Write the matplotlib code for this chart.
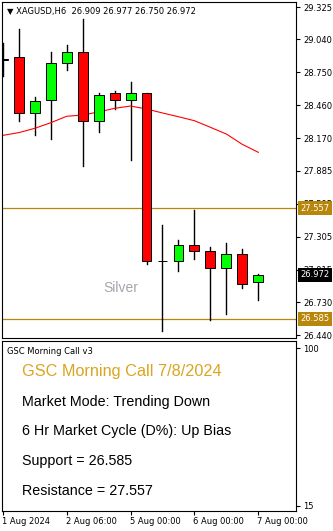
import matplotlib
matplotlib.use("Agg")
import matplotlib.pyplot as plt
import matplotlib.transforms as mtransforms
from matplotlib.patches import Rectangle

# XAGUSD H6 candles
opens = [28.862, 28.882, 28.390, 28.507, 28.833, 28.926, 28.320, 28.566, 28.507,
         28.566, 27.091, 27.088, 27.229, 27.176, 27.032, 27.153, 26.909]
highs = [29.008, 29.132, 28.533, 28.929, 28.991, 29.217, 28.566, 28.586, 28.665,
         28.566, 27.408, 27.276, 27.540, 27.212, 27.249, 27.197, 26.977]
lows = [28.718, 28.325, 28.202, 28.161, 28.774, 27.924, 28.228, 28.428, 27.979,
        27.067, 26.478, 27.006, 27.109, 26.572, 26.625, 26.856, 26.750]
closes = [28.870, 28.390, 28.498, 28.830, 28.926, 28.320, 28.548, 28.507, 28.566,
          27.088, 27.090, 27.229, 27.176, 27.032, 27.153, 26.891, 26.972]
ma = [28.196, 28.220, 28.258, 28.307, 28.364, 28.375, 28.402, 28.434, 28.454,
      28.428, 28.393, 28.360, 28.325, 28.267, 28.208, 28.117, 28.047]

price_ticks = [29.325, 29.040, 28.750, 28.460, 28.170, 27.885, 27.595, 27.305,
               27.015, 26.730, 26.440]
support = 26.585
resistance = 27.557
last_price = 26.972

date_pos = [0, 4, 8, 12, 16]
date_labels = ["1 Aug 2024", "2 Aug 06:00", "5 Aug 00:00", "6 Aug 00:00", "7 Aug 00:00"]

panel_lines = ["Market Mode: Trending Down", "6 Hr Market Cycle (D%): Up Bias",
               "Support = 26.585", "Resistance = 27.557"]

GOLD = "#B8860B"
small = 6

fig = plt.figure(figsize=(3.33, 5.31), dpi=100)
ax = fig.add_axes([2 / 333, 1 - 338 / 531, 294 / 333, 336 / 531])
ax2 = fig.add_axes([2 / 333, 1 - 511 / 531, 294 / 333, 170 / 531])

# candles
w = 0.62
for i in range(len(opens)):
    o, h, l, c = opens[i], highs[i], lows[i], closes[i]
    ax.plot([i, i], [l, h], color="black", lw=1.0, zorder=2)
    col = "#00FF00" if c >= o else "#FF0000"
    lo = min(o, c)
    hgt = max(abs(c - o), 0.004)
    ax.add_patch(Rectangle((i - w / 2, lo), w, hgt, facecolor=col,
                           edgecolor="black", lw=0.7, zorder=3))

ax.plot(range(len(ma)), ma, color="#FF0000", lw=0.8, zorder=2)
ax.axhline(resistance, color=GOLD, lw=0.9, zorder=1)
ax.axhline(support, color=GOLD, lw=0.9, zorder=1)

ax.set_xlim(-0.05, 18.36)
ax.set_ylim(26.414, 29.369)
ax.set_xticks([])
ax.yaxis.tick_right()
ax.set_yticks(price_ticks)
ax.set_yticklabels([f"{t:.3f}" for t in price_ticks])
ax.tick_params(axis="y", labelsize=small, length=3, pad=2, width=0.8)
for s in ax.spines.values():
    s.set_linewidth(0.8)

# price tags on the right scale (they sit over the neighbouring tick labels, as in MT4)
trans = mtransforms.blended_transform_factory(ax.transAxes, ax.transData)
for val, bg in [(resistance, GOLD), (support, GOLD), (last_price, "black")]:
    ax.annotate(f"{val:.3f}", xy=(1, val), xycoords=trans, xytext=(3, 0),
                textcoords="offset points", ha="left", va="center",
                fontsize=small, color="white", zorder=10, annotation_clip=False,
                bbox=dict(boxstyle="square,pad=0.3", fc=bg, ec="none"))

ax.text(0.018, 0.985, "\u25bc XAGUSD,H6  26.909 26.977 26.750 26.972",
        transform=ax.transAxes, ha="left", va="top", fontsize=small)
ax.text(7.4, 26.85, "Silver", ha="center", va="center", fontsize=10,
        color="#a3a6ae", family="Liberation Sans")

# indicator panel
ax2.set_xlim(-0.05, 18.36)
ax2.set_ylim(12.3, 103.8)
ax2.yaxis.tick_right()
ax2.set_yticks([100, 15])
ax2.tick_params(axis="y", labelsize=small, length=3, pad=2, width=0.8)
ax2.set_xticks(date_pos)
ax2.set_xticklabels(date_labels, ha="left")
ax2.tick_params(axis="x", labelsize=small, length=3, pad=1, width=0.8)
offset = mtransforms.ScaledTranslation(-1 / 100, 0, fig.dpi_scale_trans)
for lab in ax2.get_xticklabels():
    lab.set_transform(lab.get_transform() + offset)
for s in ax2.spines.values():
    s.set_linewidth(0.8)

ax2.text(0.017, 0.941, "GSC Morning Call v3", transform=ax2.transAxes,
         ha="left", va="center", fontsize=small)
ax2.text(0.068, 0.819, "GSC Morning Call 7/8/2024", transform=ax2.transAxes,
         ha="left", va="center", fontsize=11.7, color="#DAA520",
         family="Liberation Sans")
ys = [0.643, 0.472, 0.296, 0.119]
for y, txt in zip(ys, panel_lines):
    ax2.text(0.068, y, txt, transform=ax2.transAxes, ha="left", va="center",
             fontsize=10.3, color="black", family="Liberation Sans")

fig.savefig("out.png", dpi=100)
